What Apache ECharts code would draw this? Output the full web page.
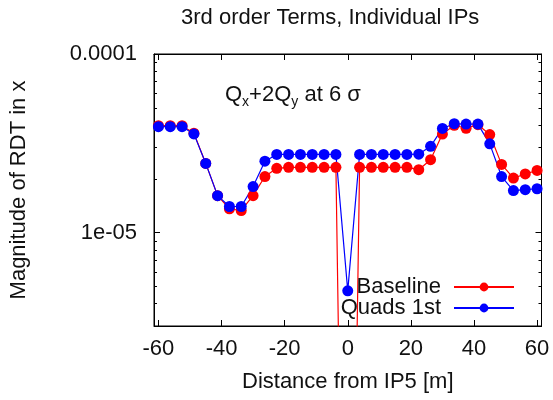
<!DOCTYPE html>
<html><head><meta charset="utf-8">
<script src="https://cdn.jsdelivr.net/npm/echarts@6/dist/echarts.min.js"></script>
<style>html,body{margin:0;padding:0;background:#fff}#c{width:553px;height:400px}</style>
</head><body><div id="c"></div>
<script>
// ---- data ----
const distances = [-60,-56.25,-52.5,-48.75,-45,-41.25,-37.5,-33.75,-30,-26.25,-22.5,-18.75,-15,-11.25,-7.5,-3.75,0,3.75,7.5,11.25,15,18.75,22.5,26.25,30,33.75,37.5,41.25,45,48.75,52.5,56.25,60];
const baseline = [3.97e-5,3.97e-5,3.97e-5,3.60e-5,2.44e-5,1.61e-5,1.36e-5,1.33e-5,1.61e-5,2.06e-5,2.29e-5,2.32e-5,2.32e-5,2.32e-5,2.32e-5,2.32e-5,1e-9,2.32e-5,2.32e-5,2.32e-5,2.32e-5,2.32e-5,2.25e-5,2.56e-5,3.56e-5,3.99e-5,3.84e-5,4.02e-5,3.54e-5,2.41e-5,2.02e-5,2.13e-5,2.23e-5];
const quads1st = [3.92e-5,3.92e-5,3.92e-5,3.57e-5,2.44e-5,1.61e-5,1.40e-5,1.40e-5,1.81e-5,2.51e-5,2.74e-5,2.74e-5,2.74e-5,2.74e-5,2.74e-5,2.74e-5,4.72e-6,2.74e-5,2.74e-5,2.74e-5,2.74e-5,2.74e-5,2.75e-5,3.04e-5,3.83e-5,4.07e-5,4.05e-5,4.05e-5,3.14e-5,2.06e-5,1.72e-5,1.74e-5,1.76e-5];
const seriesNames = ['Baseline','Quads 1st'];
const xTicks = [-60,-40,-20,0,20,40,60];
const yMajorTicks = [1e-5,1e-4];
const yMajorLabels = ['1e-05','0.0001'];
const yMinorTicks = [3e-6,4e-6,5e-6,6e-6,7e-6,8e-6,9e-6,2e-5,3e-5,4e-5,5e-5,6e-5,7e-5,8e-5,9e-5];
const xRange = [-61.4, 61.4];
const yRange = [3e-6, 1e-4];

// ---- chart ----
const FONT = "'Liberation Sans', Arial, sans-serif";
const TXT = '#111';
const chart = echarts.init(document.getElementById('c'), null, {renderer:'canvas'});
function pairs(ys){ return distances.map((x,i)=>[x, ys[i]]); }
function yLabel(v){
  for (let i=0;i<yMajorTicks.length;i++){ if (Math.abs(Math.log10(v)-Math.log10(yMajorTicks[i]))<1e-6) return yMajorLabels[i]; }
  return '';
}
const lineAxis = {show:true, onZero:false, lineStyle:{color:'#000', width:1}};
const noLine = {show:false, onZero:false};
const yBase = {type:'log', logBase:10, min:yRange[0], max:yRange[1], splitLine:{show:false}, axisLine:noLine};
const option = {
  animation:false,
  backgroundColor:'#fff',
  textStyle:{fontFamily:FONT},
  title:{text:'3rd order Terms, Individual IPs', left:181, top:7, padding:0,
    textStyle:{fontFamily:FONT, fontSize:22, fontWeight:'normal', color:TXT}},
  grid:{left:154, right:11.5, top:54, bottom:74, show:true, borderColor:'#000', borderWidth:1, backgroundColor:'transparent'},
  legend:[
    {data:[seriesNames[0]], right:38, top:276, padding:0, align:'right', itemWidth:60, itemHeight:11,
     textStyle:{fontFamily:FONT, fontSize:22, color:TXT, padding:[0,8,0,0]}},
    {data:[seriesNames[1]], right:38, top:297, padding:0, align:'right', itemWidth:60, itemHeight:11,
     textStyle:{fontFamily:FONT, fontSize:22, color:TXT, padding:[0,8,0,0]}}
  ],
  xAxis:[
    {type:'value', position:'bottom', min:xRange[0], max:xRange[1],
     name:'Distance from IP5 [m]', nameLocation:'middle', nameGap:45,
     nameTextStyle:{fontFamily:FONT, fontSize:22, color:TXT},
     axisLine:lineAxis, splitLine:{show:false},
     axisTick:{show:true, inside:true, length:6, customValues:xTicks, lineStyle:{color:'#000'}},
     axisLabel:{customValues:xTicks, margin:12, fontFamily:FONT, fontSize:22, color:TXT}},
    {type:'value', position:'top', min:xRange[0], max:xRange[1],
     axisLine:lineAxis, splitLine:{show:false},
     axisTick:{show:true, inside:true, length:6, customValues:xTicks, lineStyle:{color:'#000'}},
     axisLabel:{show:false}}
  ],
  yAxis:[
    Object.assign({}, yBase, {position:'left',
     name:'Magnitude of RDT in x', nameLocation:'middle', nameGap:124, nameRotate:90,
     nameTextStyle:{fontFamily:FONT, fontSize:22, color:TXT},
     axisLine:lineAxis,
     axisTick:{show:true, inside:true, length:6, customValues:yMajorTicks, lineStyle:{color:'#000'}},
     axisLabel:{customValues:yMajorTicks, margin:17, fontFamily:FONT, fontSize:22, color:TXT, formatter:yLabel}}),
    Object.assign({}, yBase, {position:'left',
     axisTick:{show:true, inside:true, length:3, customValues:yMinorTicks, lineStyle:{color:'#000'}},
     axisLabel:{show:false}}),
    Object.assign({}, yBase, {position:'right', axisLine:lineAxis,
     axisTick:{show:true, inside:true, length:6, customValues:yMajorTicks, lineStyle:{color:'#000'}},
     axisLabel:{show:false}}),
    Object.assign({}, yBase, {position:'right',
     axisTick:{show:true, inside:true, length:3, customValues:yMinorTicks, lineStyle:{color:'#000'}},
     axisLabel:{show:false}})
  ],
  graphic:[
    {type:'text', left:225, top:84, style:{
      text:'Q{sub|x}+2Q{sub|y} at 6 σ', font:'22px ' + FONT, fill:TXT,
      rich:{sub:{fontSize:14, fontFamily:FONT, fill:TXT, verticalAlign:'bottom', padding:[14,0,0,0]}}
    }}
  ],
  series:[
    {name:seriesNames[0], type:'line', xAxisIndex:0, yAxisIndex:0, data:pairs(baseline),
     symbol:'circle', symbolSize:11, showAllSymbol:true, clip:true,
     lineStyle:{color:'#ff0000', width:1.2}, itemStyle:{color:'#ff0000'}},
    {name:seriesNames[1], type:'line', xAxisIndex:0, yAxisIndex:0, data:pairs(quads1st),
     symbol:'circle', symbolSize:11, showAllSymbol:true, clip:true,
     lineStyle:{color:'#0000ff', width:1.2}, itemStyle:{color:'#0000ff'}}
  ]
};
chart.setOption(option);
</script></body></html>
